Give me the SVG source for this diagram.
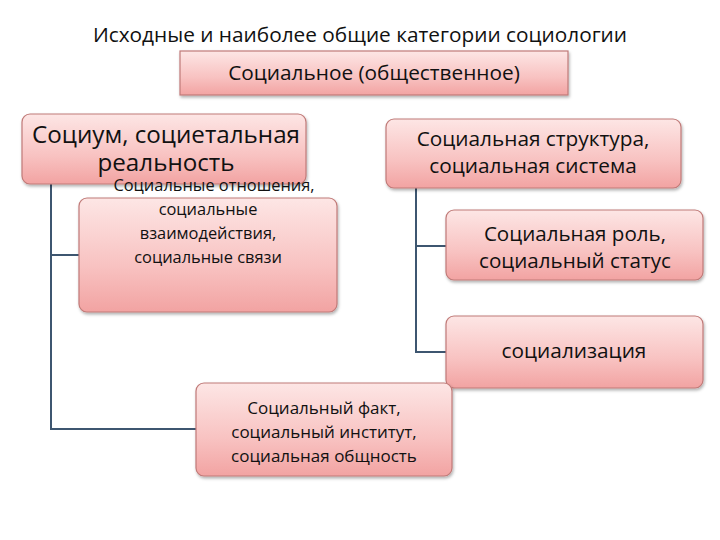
<svg xmlns="http://www.w3.org/2000/svg" width="720" height="540" viewBox="0 0 720 540">
<defs>
<linearGradient id="g" x1="0" y1="0" x2="0" y2="1">
<stop offset="0" stop-color="#fde6e5"/>
<stop offset="0.6" stop-color="#f8c2c1"/>
<stop offset="1" stop-color="#f2a3a2"/>
</linearGradient>
<filter id="sh" x="-10%" y="-10%" width="120%" height="130%">
<feDropShadow dx="1" dy="2" stdDeviation="1.5" flood-color="#000" flood-opacity="0.3"/>
</filter>
<style>
.box{fill:url(#g);stroke:#c07a78;stroke-width:1.2;filter:url(#sh)}
.t{font-family:"Open Sans","Liberation Sans",sans-serif;fill:#111;text-anchor:middle}
.c{fill:none;stroke:#3d5670;stroke-width:2}
</style>
</defs>
<rect width="720" height="540" fill="#fff"/>
<text class="t" x="360" y="42" font-size="20.8">Исходные и наиболее общие категории социологии</text>
<g id="connectors">
<path class="c" d="M51 184 V429 H196 M51 255 H79"/>
<path class="c" d="M416 188 V352 H446 M416 246 H446"/>
</g>
<g id="n1">
<rect class="box" x="180" y="51" width="388" height="44"/>
<text class="t" x="374" y="80" font-size="20.8">Социальное (общественное)</text>
</g>
<g id="n2">
<rect class="box" x="22" y="114" width="284" height="70" rx="8"/>
<text class="t" x="166" y="143" font-size="24.2">Социум, социетальная</text>
<text class="t" x="166" y="171" font-size="24.2">реальность</text>
</g>
<g id="n3">
<rect class="box" x="79" y="198" width="258" height="114" rx="8"/>
<text class="t" x="214" y="191" font-size="16.4">Социальные отношения,</text>
<text class="t" x="208" y="215" font-size="16.4">социальные</text>
<text class="t" x="208" y="239" font-size="16.4">взаимодействия,</text>
<text class="t" x="208" y="263" font-size="16.4">социальные связи</text>
</g>
<g id="n4">
<rect class="box" x="386" y="119" width="295" height="69" rx="8"/>
<text class="t" x="533" y="146" font-size="20.8">Социальная структура,</text>
<text class="t" x="533" y="173" font-size="20.8">социальная система</text>
</g>
<g id="n5">
<rect class="box" x="446" y="210" width="257" height="70" rx="8"/>
<text class="t" x="575" y="241" font-size="20.6">Социальная роль,</text>
<text class="t" x="575" y="268" font-size="20.6">социальный статус</text>
</g>
<g id="n6">
<rect class="box" x="446" y="316" width="257" height="72" rx="8"/>
<text class="t" x="574" y="358" font-size="20.8">социализация</text>
</g>
<g id="n7">
<rect class="box" x="196" y="383" width="256" height="93" rx="8"/>
<text class="t" x="324" y="414" font-size="17">Социальный факт,</text>
<text class="t" x="324" y="438" font-size="17">социальный институт,</text>
<text class="t" x="324" y="462" font-size="17">социальная общность</text>
</g>
</svg>
